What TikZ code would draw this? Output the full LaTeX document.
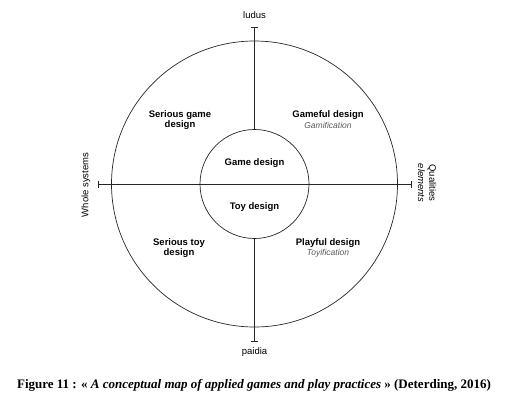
\documentclass[tikz,border=0pt]{standalone}
\usepackage{fontspec}
\setmainfont{Liberation Serif}
\setsansfont{Liberation Sans}
\begin{document}
\begin{tikzpicture}[x=1pt,y=-1pt,
  ln/.style={line width=0.7pt, draw=black!85},
  quad/.style={font=\sffamily\bfseries\fontsize{9.5}{10}\selectfont, align=center, inner sep=0pt},
  sub/.style={font=\sffamily\itshape\fontsize{8.5}{9}\selectfont, text=black!65, inner sep=0pt},
  axis/.style={font=\sffamily\fontsize{9.5}{10}\selectfont, inner sep=0pt},
  tick/.style={line width=0.7pt, draw=black!85}]
\useasboundingbox (0,0) rectangle (510,406);
\coordinate (c) at (254.5,184);
\draw[ln] (c) circle[radius=143];
\draw[ln] (c) circle[radius=54.5];
% axes
\coordinate (top) at (254.5,27);
\coordinate (bot) at (254.5,341);
\coordinate (lft) at (98,184);
\coordinate (rgt) at (411,184);
\coordinate (itop) at (254.5,129.5);
\coordinate (ibot) at (254.5,238.5);
\draw[ln] (top) -- (itop);
\draw[ln] (ibot) -- (bot);
\draw[ln] (lft) -- (rgt);
\draw[tick] ([xshift=-3.5]top) -- ([xshift=3.5]top);
\draw[tick] ([xshift=-3.5]bot) -- ([xshift=3.5]bot);
\draw[tick] ([yshift=-3.5]lft) -- ([yshift=3.5]lft);
\draw[tick] ([yshift=-3.5]rgt) -- ([yshift=3.5]rgt);
% axis labels
\node[axis] (ludus) at (254.5,15) {ludus};
\node[axis] (paidia) at (254.5,352) {paidia};
\node[axis, rotate=90] (whole) at (86,185) {Whole systems};
\node[axis, rotate=-90] (qual) at (432,183) {Qualities};
\node[axis, rotate=-90, font=\sffamily\itshape\fontsize{9.5}{10}\selectfont] (elem) at (421.5,183) {elements};
% quadrant labels
\node[quad] (sgd) at (180,120) {Serious game\\design};
\node[quad] (gfd) at (328,115) {Gameful design};
\node[sub] (gam) at (328,125.5) {Gamification};
\node[quad] (gd) at (254.5,163) {Game design};
\node[quad] (td) at (254.5,207.5) {Toy design};
\node[quad] (std) at (179,248) {Serious toy\\design};
\node[quad] (pfd) at (328,243) {Playful design};
\node[sub] (toy) at (328,253.5) {Toyification};
% caption
\node[font=\bfseries\fontsize{13}{15}\selectfont, inner sep=0pt] (cap) at (254,385)
  {Figure 11 : « \textit{A conceptual map of applied games and play practices} » (Deterding, 2016)};
\end{tikzpicture}
\end{document}
